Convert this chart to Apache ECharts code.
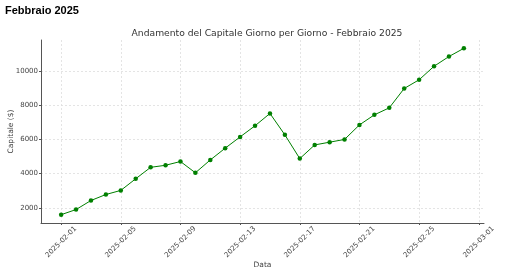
<!DOCTYPE html>
<html>
<head>
<meta charset="utf-8">
<script src="https://cdn.jsdelivr.net/npm/echarts@6/dist/echarts.min.js"></script>
<style>
html,body{margin:0;padding:0;background:#fff;}
#chart{width:512px;height:275px;}
</style>
</head>
<body>
<div id="chart"></div>
<script>
var dates = ["2025-02-01","2025-02-02","2025-02-03","2025-02-04","2025-02-05","2025-02-06","2025-02-07",
  "2025-02-08","2025-02-09","2025-02-10","2025-02-11","2025-02-12","2025-02-13","2025-02-14",
  "2025-02-15","2025-02-16","2025-02-17","2025-02-18","2025-02-19","2025-02-20","2025-02-21",
  "2025-02-22","2025-02-23","2025-02-24","2025-02-25","2025-02-26","2025-02-27","2025-02-28"];
var capitale = [1600,1900,2430,2780,3020,3700,4370,4490,4710,4050,4800,5490,6150,6800,
  7520,6270,4880,5680,5840,6000,6850,7440,7850,8980,9490,10280,10850,11330];
var xTickLabels = ["2025-02-01","2025-02-05","2025-02-09","2025-02-13","2025-02-17","2025-02-21","2025-02-25","2025-03-01"];
var yTickValues = [2000,4000,6000,8000,10000];

var DAY = 86400000;
function ts(s){var p=s.split('-');return Date.UTC(+p[0],+p[1]-1,+p[2]);}
function fmt(v){var d=new Date(Math.round(v/DAY)*DAY);var m=d.getUTCMonth()+1,dd=d.getUTCDate();
  return d.getUTCFullYear()+'-'+(m<10?'0':'')+m+'-'+(dd<10?'0':'')+dd;}
var xs = dates.map(ts);
var span = xs[xs.length-1]-xs[0];
var xMin = xs[0]-span*0.05, xMax = xs[xs.length-1]+span*0.05;
var yLo = Math.min.apply(null,capitale), yHi = Math.max.apply(null,capitale);
var yMin = yLo-(yHi-yLo)*0.05, yMax = yHi+(yHi-yLo)*0.05;
var xTickValues = xTickLabels.map(ts);

var chart = echarts.init(document.getElementById('chart'), null, {renderer:'canvas'});
chart.setOption({
  animation:false,
  backgroundColor:'#fff',
  title:[
    {text:'Febbraio 2025', left:0, top:0, textStyle:{fontFamily:'Liberation Sans', fontSize:11, fontWeight:'bold', color:'#000'}},
    {text:'Andamento del Capitale Giorno per Giorno - Febbraio 2025', left:262, top:24, textAlign:'center',
     textStyle:{fontFamily:'DejaVu Sans', fontSize:9.2, fontWeight:'normal', color:'#333'}}
  ],
  grid:{left:41, right:28, top:40, bottom:52, containLabel:false, outerBoundsMode:'none'},
  xAxis:{
    type:'value', min:xMin, max:xMax,
    name:'Data', nameLocation:'middle', nameGap:38, nameMoveOverlap:false,
    nameTextStyle:{fontFamily:'DejaVu Sans', fontSize:7.5, color:'#444'},
    axisLine:{show:true, onZero:false, lineStyle:{color:'#555', width:1}},
    axisTick:{show:true, length:2, customValues:xTickValues, lineStyle:{color:'#555'}},
    axisLabel:{customValues:xTickValues, rotate:45, align:'center', verticalAlign:'middle', margin:19,
      fontFamily:'DejaVu Sans', fontSize:7, color:'#444', formatter:function(v){return fmt(v);}},
    splitLine:{show:true, lineStyle:{color:'#ddd', type:[2,2], width:0.8}}
  },
  yAxis:{
    type:'value', min:yMin, max:yMax,
    name:'Capitale ($)', nameLocation:'middle', nameGap:26, nameMoveOverlap:false,
    nameTextStyle:{fontFamily:'DejaVu Sans', fontSize:7.5, color:'#444'},
    axisLine:{show:true, lineStyle:{color:'#555', width:1}},
    axisTick:{show:true, length:2, customValues:yTickValues, lineStyle:{color:'#555'}},
    axisLabel:{customValues:yTickValues, margin:3, fontFamily:'DejaVu Sans', fontSize:7, color:'#444',
      formatter:function(v){return String(v);}},
    splitLine:{show:true, lineStyle:{color:'#ddd', type:[2,2], width:0.8}}
  },
  series:[{
    type:'line',
    data:xs.map(function(x,i){return [x,capitale[i]];}),
    symbol:'circle', symbolSize:4.5,
    itemStyle:{color:'#008000'},
    lineStyle:{color:'#008000', width:1}
  }]
});
</script>
</body>
</html>
